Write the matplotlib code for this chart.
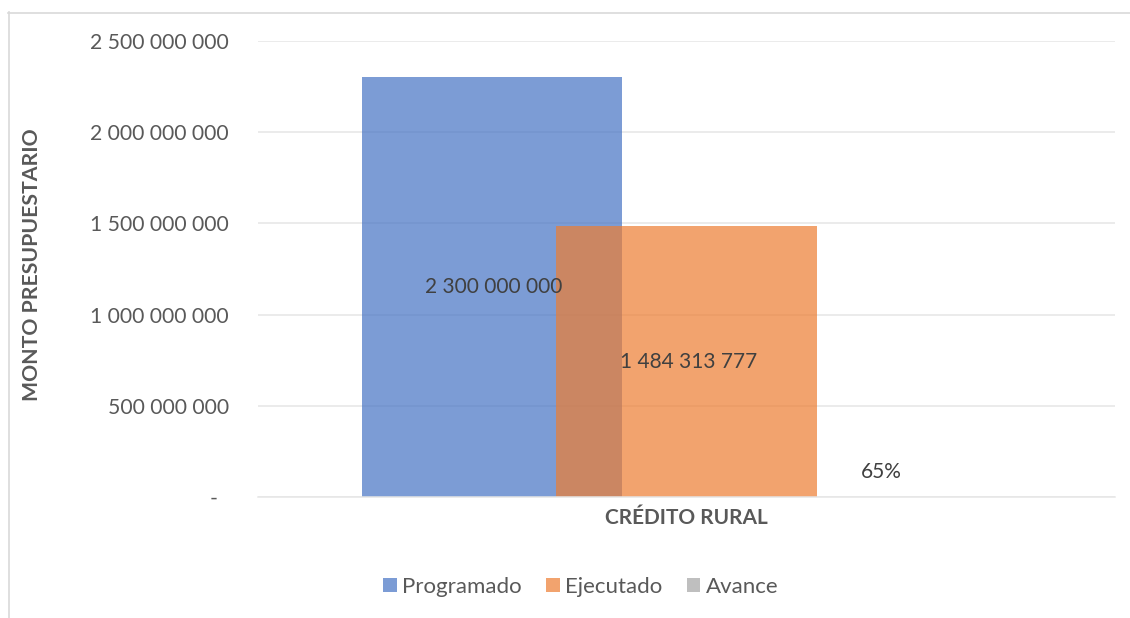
import matplotlib
matplotlib.use("Agg")
import matplotlib.pyplot as plt
from matplotlib.lines import Line2D
from matplotlib.patches import Patch

categories = ["CRÉDITO RURAL"]
series_names = ["Programado", "Ejecutado", "Avance"]
programado = [2300000000]
ejecutado = [1484313777]
avance = [0.65]
bar_labels = ["2 300 000 000", "1 484 313 777", "65%"]
yticks = [0, 500000000, 1000000000, 1500000000, 2000000000, 2500000000]
ytick_labels = ["-  ", "500 000 000", "1 000 000 000", "1 500 000 000", "2 000 000 000", "2 500 000 000"]

colors = ["#4472C4", "#ED7D31", "#A5A5A5"]
FONT = "Lato"
W, H = 1130, 618
fig = plt.figure(figsize=(W / 100, H / 100), dpi=100)
ax = fig.add_axes([258 / W, 1 - 497 / H, (1115 - 258) / W, (497 - 41) / H])

width = 0.3034
offsets = [-0.2275, 0.0, 0.2275]
values = [programado, ejecutado, avance]
for i, (name, vals) in enumerate(zip(series_names, values)):
    xs = [k + offsets[i] for k in range(len(categories))]
    ax.bar(xs, vals, width=width, color=colors[i], alpha=0.7, zorder=2, label=name)
    for x, v in zip(xs, vals):
        if name == "Avance":
            ax.annotate(bar_labels[i], (x, v / 2), xytext=(0, 18), textcoords="offset points",
                        ha="center", va="center", fontsize=15, color="#404040", family=FONT)
        else:
            ax.text(x + 0.003, v / 2, bar_labels[i], ha="center", va="center", fontsize=15,
                    color="#404040", family=FONT, zorder=3)

ax.set_xlim(-0.5, 0.5)
ax.set_ylim(0, 2500000000)
ax.set_yticks(yticks)
ax.set_yticklabels(ytick_labels, family=FONT, fontsize=15.2, color="#595959")
ax.set_xticks(range(len(categories)))
ax.set_xticklabels(categories, family=FONT, fontsize=15, fontweight="bold", color="#595959")
ax.tick_params(axis="both", length=0)
ax.tick_params(axis="y", pad=21)
ax.tick_params(axis="x", pad=8)
ax.grid(axis="y", color="#E6E6E6", linewidth=1.1, zorder=0)
ax.set_axisbelow(True)
for s in ["left", "right", "top"]:
    ax.spines[s].set_visible(False)
ax.spines["bottom"].set_color("#E6E6E6")
ax.spines["bottom"].set_linewidth(1.1)

fig.text(32 / W, 1 - 265 / H, "MONTO PRESUPUESTARIO", rotation=90, ha="center", va="center",
         family=FONT, fontsize=15.3, fontweight="bold", color="#595959")

handles = [Patch(facecolor=c, alpha=0.7, edgecolor="none") for c in colors]
leg = fig.legend(handles, series_names, loc="center", bbox_to_anchor=(581 / W, 1 - 587 / H),
                 ncol=3, frameon=False, prop={"family": FONT, "size": 16},
                 handlelength=0.6, handleheight=0.6, handletextpad=0.25, columnspacing=1.1)
for t in leg.get_texts():
    t.set_color("#595959")

fig.add_artist(Line2D([8.5 / W, 8.5 / W], [0, 1 - 12 / H], color="#D9D9D9", linewidth=1.2))
fig.add_artist(Line2D([8 / W, 1], [1 - 12.5 / H, 1 - 12.5 / H], color="#D9D9D9", linewidth=1.2))

fig.savefig("out.png", dpi=100)
